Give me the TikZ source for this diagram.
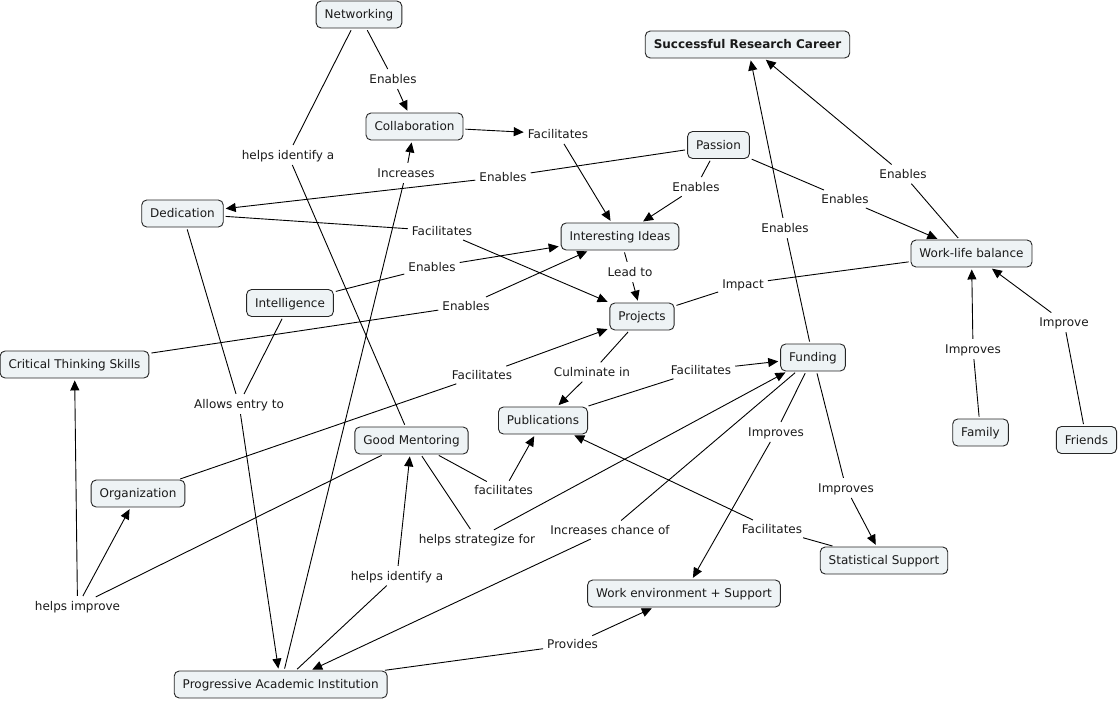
\documentclass[tikz,border=0pt]{standalone}
\usepackage{fontspec}
\setmainfont{DejaVu Sans}
\usetikzlibrary{arrows.meta}
\definecolor{boxfill}{HTML}{EEF3F5}
\definecolor{ink}{HTML}{1A1A1A}
\begin{document}
\begin{tikzpicture}[x=1pt,y=-1pt,
  font=\fontsize{12}{14}\selectfont, text=ink,
  concept/.style={draw=black!85, fill=boxfill, rounded corners=5pt, line width=0.9pt,
    inner xsep=8.5pt, inner ysep=7.5pt, text height=10pt, text depth=2pt},
  lbl/.style={inner xsep=2pt, inner ysep=2pt, text height=10pt, text depth=2pt},
  link/.style={line width=0.9pt, shorten <=2pt, shorten >=2pt},
  arr/.style={link, -{Triangle[length=10pt,width=9pt]}}]
\useasboundingbox (0,0) rectangle (1119,701);
% concepts
\node[concept] (net) at (359,14.5) {Networking};
\node[concept, font=\fontsize{12}{14}\selectfont\bfseries] (src) at (747.5,44.5) {Successful Research Career};
\node[concept] (col) at (414.5,126.5) {Collaboration};
\node[concept] (pas) at (718.5,145) {Passion};
\node[concept] (ded) at (182.5,213.5) {Dedication};
\node[concept] (ide) at (620,236.5) {Interesting Ideas};
\node[concept] (wlb) at (971.5,253.5) {Work-life balance};
\node[concept] (int) at (290,303) {Intelligence};
\node[concept] (pro) at (642,316.5) {Projects};
\node[concept] (cts) at (74.5,364.5) {Critical Thinking Skills};
\node[concept] (fun) at (813,357.5) {Funding};
\node[concept] (pub) at (543,420.5) {Publications};
\node[concept] (gm) at (411.5,440.5) {Good Mentoring};
\node[concept] (fam) at (980.5,432.5) {Family};
\node[concept] (fri) at (1086.5,440) {Friends};
\node[concept] (org) at (138,493.5) {Organization};
\node[concept] (stat) at (884,560.5) {Statistical Support};
\node[concept] (we) at (684,593.5) {Work environment + Support};
\node[concept] (pai) at (280.7,684.5) {Progressive Academic Institution};
% link labels
\node[lbl] (l1) at (393,79) {Enables};
\node[lbl] (l2) at (288,155) {helps identify a};
\node[lbl] (l3) at (558,134) {Facilitates};
\node[lbl] (l4) at (406,173) {Increases};
\node[lbl] (l5) at (503,177) {Enables};
\node[lbl] (l6) at (696,187) {Enables};
\node[lbl] (l7) at (845,199) {Enables};
\node[lbl] (l8) at (903,174) {Enables};
\node[lbl] (l9) at (785,228) {Enables};
\node[lbl] (l10) at (442,231) {Facilitates};
\node[lbl] (l11) at (432,267) {Enables};
\node[lbl] (l12) at (630,272) {Lead to};
\node[lbl] (l13) at (743,284) {Impact};
\node[lbl] (l14) at (466,306) {Enables};
\node[lbl] (l15) at (1064,322) {Improve};
\node[lbl] (l16) at (973,349) {Improves};
\node[lbl] (l17) at (592,372) {Culminate in};
\node[lbl] (l18) at (701,370) {Facilitates};
\node[lbl] (l19) at (482,375) {Facilitates};
\node[lbl] (l20) at (239,404) {Allows entry to};
\node[lbl] (l21) at (776,432) {Improves};
\node[lbl] (l22) at (846,488) {Improves};
\node[lbl] (l23) at (503.6,490.7) {facilitates};
\node[lbl] (l24) at (772,529) {Facilitates};
\node[lbl] (l25) at (610,530) {Increases chance of};
\node[lbl] (l26) at (477,539) {helps strategize for};
\node[lbl] (l27) at (397,576) {helps identify a};
\node[lbl] (l28) at (77.5,606) {helps improve};
\node[lbl] (l29) at (572.6,644.7) {Provides};
% connectors
\draw[link] (net) -- (l1); \draw[arr] (l1) -- (col);
\draw[link] (net) -- (l2); \draw[link] (l2) -- (gm);
\draw[arr] (col) -- (l3); \draw[arr] (l3) -- (ide);
\draw[link] (pai) -- (l4); \draw[arr] (l4) -- (col);
\draw[link] (pas) -- (l5); \draw[arr] (l5) -- (ded);
\draw[link] (pas) -- (l6); \draw[arr] (l6) -- (ide);
\draw[link] (pas) -- (l7); \draw[arr] (l7) -- (wlb);
\draw[link] (wlb) -- (l8); \draw[arr] (l8) -- (src);
\draw[link] (fun) -- (l9); \draw[arr] (l9) -- (src);
\draw[link] (ded) -- (l10); \draw[arr] (l10) -- (pro);
\draw[link] (int) -- (l11); \draw[arr] (l11) -- (ide);
\draw[link] (ide) -- (l12); \draw[arr] (l12) -- (pro);
\draw[link] (pro) -- (l13); \draw[link] (l13) -- (wlb);
\draw[link] (cts) -- (l14); \draw[arr] (l14) -- (ide);
\draw[link] (fri) -- (l15); \draw[arr] (l15) -- (wlb);
\draw[link] (fam) -- (l16); \draw[arr] (l16) -- (wlb);
\draw[link] (pro) -- (l17); \draw[arr] (l17) -- (pub);
\draw[link] (pub) -- (l18); \draw[arr] (l18) -- (fun);
\draw[link] (org) -- (l19); \draw[arr] (l19) -- (pro);
\draw[link] (ded) -- (l20); \draw[link] (int) -- (l20); \draw[arr] (l20) -- (pai);
\draw[link] (fun) -- (l21); \draw[arr] (l21) -- (we);
\draw[link] (fun) -- (l22); \draw[arr] (l22) -- (stat);
\draw[link] (gm) -- (l23); \draw[arr] (l23) -- (pub);
\draw[link] (stat) -- (l24); \draw[arr] (l24) -- (pub);
\draw[link] (fun) -- (l25); \draw[arr] (l25) -- (pai);
\draw[link] (gm) -- (l26); \draw[arr] (l26) -- (fun);
\draw[link] (pai) -- (l27); \draw[arr] (l27) -- (gm);
\draw[link] (gm) -- (l28); \draw[arr] (l28) -- (org); \draw[arr] (l28) -- (cts);
\draw[link] (pai) -- (l29); \draw[arr] (l29) -- (we);
\end{tikzpicture}
\end{document}
